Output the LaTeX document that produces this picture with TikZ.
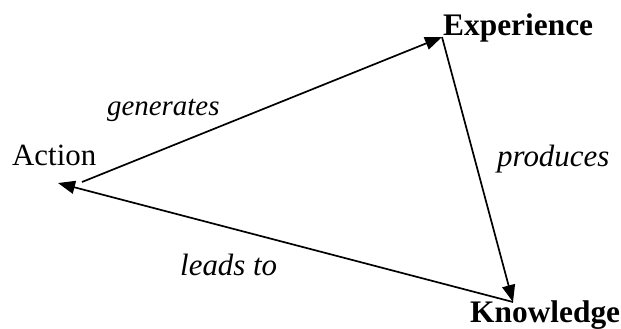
\documentclass[tikz,border=0pt]{standalone}
\usepackage{fontspec}
\setmainfont{Liberation Serif}
\usetikzlibrary{arrows.meta}
\begin{document}
\begin{tikzpicture}[x=1bp,y=-1bp,
  lbl/.style={anchor=base west,inner sep=0pt,font=\fontsize{31}{36}\selectfont},
  conn/.style={line width=1.7bp,-{Triangle[length=17bp,width=13bp]}}]
\useasboundingbox (0,0) rectangle (621,328);
\node[lbl] (action) at (12,165) {Action};
\node[lbl,font=\fontsize{31.5}{36}\selectfont\bfseries] (exp) at (443,35) {Experience};
\node[lbl,font=\fontsize{31.5}{36}\selectfont\bfseries] (know) at (470,322) {Knowledge};
\node[lbl,font=\fontsize{29}{34}\selectfont\itshape] (gen) at (107,115) {generates};
\node[lbl,font=\fontsize{31}{36}\selectfont\itshape] (prod) at (497,166) {produces};
\node[lbl,font=\fontsize{31}{36}\selectfont\itshape] (leads) at (180,275) {leads to};
\coordinate (aout) at (82,182);
\coordinate (ain) at (58,183);
\coordinate (etip) at (442,37);
\coordinate (ktip) at (513,302);
\draw[conn] (aout) -- (etip);
\draw[conn] (etip) -- (ktip);
\draw[conn] (ktip) -- (ain);
\end{tikzpicture}
\end{document}
